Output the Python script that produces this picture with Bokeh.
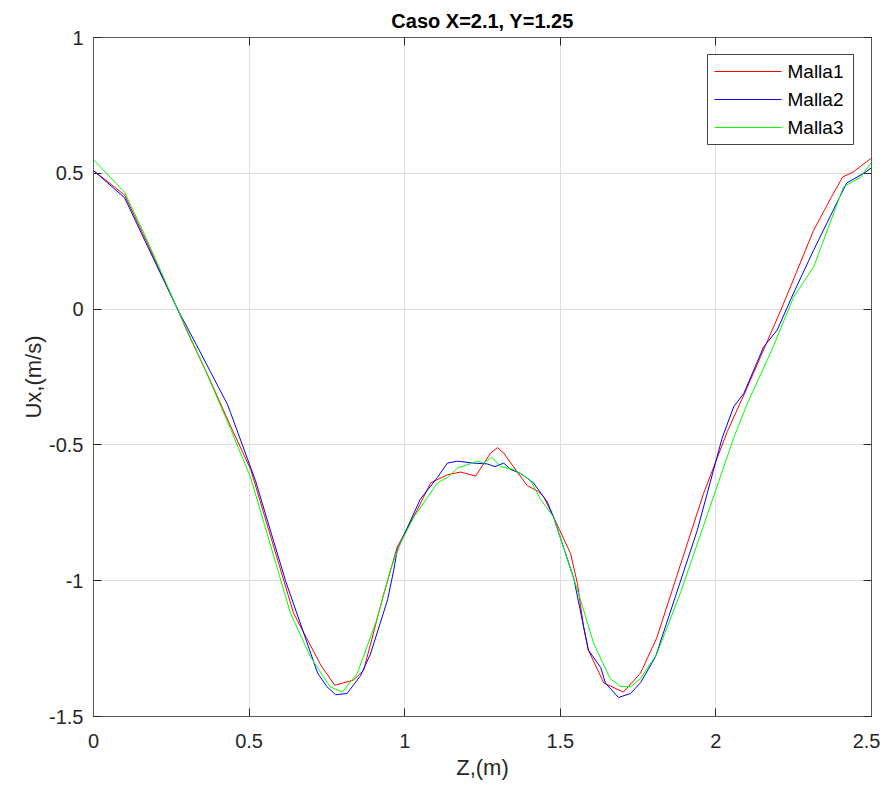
from bokeh.plotting import figure
from bokeh.models import LinearAxis, FixedTicker, Range1d
from bokeh.core.properties import value
from bokeh.embed import file_html
from bokeh.resources import INLINE

# Data
z1 = [0, 0.1, 0.17, 0.27, 0.3, 0.37, 0.44, 0.505, 0.643, 0.73, 0.775, 0.835, 0.868, 0.93, 0.976, 1.04,
      1.083, 1.137, 1.18, 1.228, 1.276, 1.298, 1.318, 1.362, 1.394, 1.427, 1.446, 1.478, 1.533, 1.555,
      1.575, 1.59, 1.64, 1.703, 1.758, 1.81, 1.96, 2.037, 2.10, 2.21, 2.314, 2.37, 2.407, 2.44, 2.5]
u1 = [0.51, 0.42, 0.25, 0.0, -0.08, -0.25, -0.43, -0.59, -1.12, -1.31, -1.385, -1.366, -1.33, -1.06,
      -0.876, -0.74, -0.64, -0.61, -0.60, -0.615, -0.53, -0.51, -0.53, -0.60, -0.65, -0.67, -0.69, -0.765,
      -0.90, -1.01, -1.17, -1.255, -1.377, -1.41, -1.34, -1.21, -0.68, -0.45, -0.29, 0.0, 0.29, 0.41,
      0.486, 0.504, 0.556]

z2 = [0, 0.1, 0.17, 0.27, 0.33, 0.43, 0.44, 0.52, 0.617, 0.72, 0.75, 0.778, 0.815, 0.858, 0.89, 0.945,
      0.965, 0.976, 1.05, 1.105, 1.137, 1.17, 1.22, 1.265, 1.29, 1.318, 1.34, 1.372, 1.414, 1.458, 1.478,
      1.543, 1.59, 1.63, 1.645, 1.687, 1.726, 1.758, 1.806, 1.94, 2.02, 2.057, 2.09, 2.153, 2.197, 2.25,
      2.314, 2.42, 2.475, 2.5]
u2 = [0.51, 0.41, 0.24, 0.0, -0.13, -0.35, -0.38, -0.63, -1.0, -1.34, -1.39, -1.42, -1.415, -1.35, -1.27,
      -1.07, -0.96, -0.887, -0.70, -0.62, -0.567, -0.56, -0.567, -0.57, -0.58, -0.567, -0.59, -0.605, -0.64,
      -0.71, -0.765, -0.99, -1.255, -1.32, -1.377, -1.43, -1.415, -1.375, -1.28, -0.815, -0.475, -0.36,
      -0.31, -0.14, -0.077, 0.06, 0.217, 0.464, 0.50, 0.52]

z3 = [0, 0.1, 0.17, 0.27, 0.35, 0.44, 0.505, 0.633, 0.697, 0.76, 0.80, 0.848, 0.91, 0.954, 0.987, 1.03,
      1.105, 1.137, 1.17, 1.234, 1.253, 1.28, 1.308, 1.35, 1.404, 1.436, 1.478, 1.565, 1.607, 1.66, 1.694,
      1.726, 1.758, 1.81, 1.886, 2.057, 2.10, 2.18, 2.25, 2.314, 2.41, 2.465, 2.5]
u3 = [0.55, 0.43, 0.26, 0.0, -0.2, -0.44, -0.62, -1.12, -1.28, -1.39, -1.41, -1.34, -1.145, -0.96, -0.86,
      -0.765, -0.64, -0.62, -0.585, -0.56, -0.567, -0.545, -0.58, -0.59, -0.63, -0.70, -0.765, -1.07, -1.23,
      -1.36, -1.39, -1.39, -1.36, -1.27, -1.045, -0.475, -0.35, -0.15, 0.045, 0.155, 0.45, 0.486, 0.54]

series_names = ["Malla1", "Malla2", "Malla3"]
series_colors = ["#ff0000", "#0000ff", "#00ff00"]
x_ticks = [0, 0.5, 1, 1.5, 2, 2.5]
x_tick_labels = ["0", "0.5", "1", "1.5", "2", "2.5"]
y_ticks = [-1.5, -1, -0.5, 0, 0.5, 1]
y_tick_labels = ["-1.5", "-1", "-0.5", "0", "0.5", "1"]
X_MIN, X_MAX = 0, 2.5
Y_MIN, Y_MAX = -1.5, 1

FONT = "Liberation Sans"
AX = "#262626"
AXLINE = "#5a5a5a"

# layout (pixels)
BL, BR, BT, BB = 93, 9, 37, 70
W, H = 880, 786
FW, FH = W - BL - BR, H - BT - BB

p = figure(width=W, height=H, output_backend="svg", toolbar_location=None,
           x_range=Range1d(X_MIN, X_MAX), y_range=Range1d(Y_MIN, Y_MAX),
           min_border_left=BL, min_border_right=BR, min_border_top=BT, min_border_bottom=BB,
           background_fill_color="white", border_fill_color="white")

p.title.text = "Caso X=2.1, Y=1.25"
p.title.align = "center"
p.title.text_font = FONT
p.title.text_font_size = "20px"
p.title.text_font_style = "bold"
p.title.text_color = "#000000"
p.title.offset = 0
p.title.standoff = 11

for zs, us, c in zip([z1, z2, z3], [u1, u2, u3], series_colors):
    p.line(zs, us, line_color=c, line_width=1)

xb = p.below[0]
yl = p.left[0]
top = LinearAxis()
right = LinearAxis()
p.add_layout(top, "above")
p.add_layout(right, "right")


def style_axis(ax, ticks, labels=None):
    ax.ticker = FixedTicker(ticks=ticks)
    ax.axis_line_color = AXLINE
    ax.axis_line_width = 1
    ax.major_tick_line_color = AX
    ax.major_tick_line_width = 1
    ax.major_tick_in = 8
    ax.major_tick_out = 0
    ax.minor_tick_line_color = None
    ax.major_label_text_font = FONT
    ax.major_label_text_font_size = "20px"
    ax.major_label_text_color = AX
    ax.axis_label_text_font = FONT
    ax.axis_label_text_font_size = "22px"
    ax.axis_label_text_font_style = "normal"
    ax.axis_label_text_color = AX
    if labels is None:
        ax.major_label_text_font_size = "0px"
        ax.major_label_text_color = None
    else:
        ax.major_label_overrides = {t: s for t, s in zip(ticks, labels)}


style_axis(xb, x_ticks, x_tick_labels)
style_axis(yl, y_ticks, y_tick_labels)
style_axis(top, x_ticks)
style_axis(right, y_ticks)
xb.axis_label = "Z,(m)"
yl.axis_label = "Ux,(m/s)"
xb.major_label_standoff = 17
yl.major_label_standoff = 10
xb.axis_label_standoff = 4
yl.axis_label_standoff = 0

p.xgrid.ticker = FixedTicker(ticks=x_ticks)
p.ygrid.ticker = FixedTicker(ticks=y_ticks)
p.grid.grid_line_color = "#dedede"
p.grid.grid_line_width = 1
p.outline_line_color = AXLINE


# legend drawn by hand (pixel layout converted to data space)
def px_x(px):
    return X_MIN + (px - BL) * (X_MAX - X_MIN) / FW


def px_y(py):
    return Y_MAX - (py - BT) * (Y_MAX - Y_MIN) / FH


LEG_L, LEG_R, LEG_T, LEG_B = 707, 853, 54, 144
ROW0, ROW_STEP = 71, 28
GL0, GL1, TXT = 714, 781, 787
rows = [ROW0 + i * ROW_STEP for i in range(len(series_names))]

p.quad(left=[px_x(LEG_L)], right=[px_x(LEG_R)], top=[px_y(LEG_T)], bottom=[px_y(LEG_B)],
       fill_color="white", line_color="#444444", line_width=1)
p.segment(x0=[px_x(GL0)] * 3, x1=[px_x(GL1)] * 3, y0=[px_y(r) for r in rows], y1=[px_y(r) for r in rows],
          line_color=series_colors, line_width=1)
p.text(x=[px_x(TXT)] * 3, y=[px_y(r) for r in rows], text=series_names,
       text_font=value(FONT), text_font_size=value("19px"), text_color="#000000",
       text_align="left", text_baseline="middle")

open("out.html", "w").write(file_html(p, INLINE))
